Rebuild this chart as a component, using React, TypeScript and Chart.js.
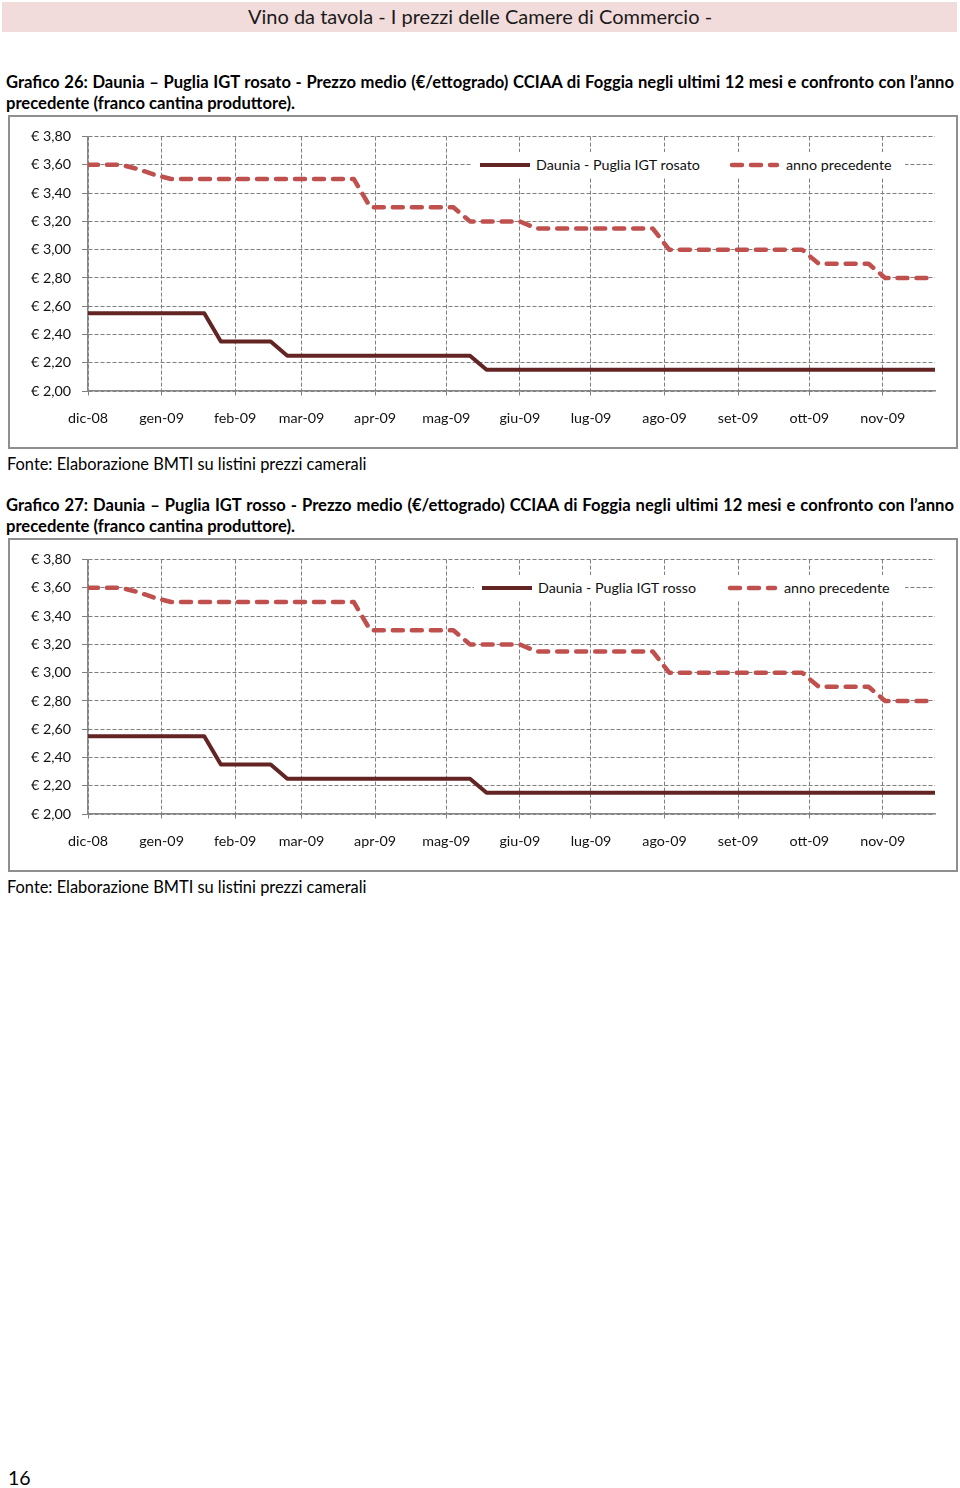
import React, { useEffect, useRef } from "react";
import { Chart, registerables } from "chart.js";

Chart.register(...registerables);

const FONT = "Lato, 'Open Sans', 'DejaVu Sans', sans-serif";

// Weekly observation dates (Mondays)
const weekDates = [
  "2008-12-01", "2008-12-08", "2008-12-15", "2008-12-22", "2008-12-29",
  "2009-01-05", "2009-01-12", "2009-01-19", "2009-01-26",
  "2009-02-02", "2009-02-09", "2009-02-16", "2009-02-23",
  "2009-03-02", "2009-03-09", "2009-03-16", "2009-03-23", "2009-03-30",
  "2009-04-06", "2009-04-13", "2009-04-20", "2009-04-27",
  "2009-05-04", "2009-05-11", "2009-05-18", "2009-05-25",
  "2009-06-01", "2009-06-08", "2009-06-15", "2009-06-22", "2009-06-29",
  "2009-07-06", "2009-07-13", "2009-07-20", "2009-07-27",
  "2009-08-03", "2009-08-10", "2009-08-17", "2009-08-24", "2009-08-31",
  "2009-09-07", "2009-09-14", "2009-09-21", "2009-09-28",
  "2009-10-05", "2009-10-12", "2009-10-19", "2009-10-26",
  "2009-11-02", "2009-11-09", "2009-11-16", "2009-11-23",
];

const monthStarts = [
  "2008-12-01", "2009-01-01", "2009-02-01", "2009-03-01", "2009-04-01", "2009-05-01",
  "2009-06-01", "2009-07-01", "2009-08-01", "2009-09-01", "2009-10-01", "2009-11-01",
];
const monthLabels = [
  "dic-08", "gen-09", "feb-09", "mar-09", "apr-09", "mag-09",
  "giu-09", "lug-09", "ago-09", "set-09", "ott-09", "nov-09",
];
const yTickValues = [2.0, 2.2, 2.4, 2.6, 2.8, 3.0, 3.2, 3.4, 3.6, 3.8];

// Grafico 26 – rosato
const rosatoCurrent = [
  2.55, 2.55, 2.55, 2.55, 2.55, 2.55, 2.55, 2.55,
  2.35, 2.35, 2.35, 2.35,
  2.25, 2.25, 2.25, 2.25, 2.25, 2.25, 2.25, 2.25, 2.25, 2.25, 2.25, 2.25,
  2.15, 2.15, 2.15, 2.15, 2.15, 2.15, 2.15, 2.15, 2.15, 2.15, 2.15, 2.15, 2.15, 2.15,
  2.15, 2.15, 2.15, 2.15, 2.15, 2.15, 2.15, 2.15, 2.15, 2.15, 2.15, 2.15, 2.15, 2.15,
];
const rosatoPrevious = [
  3.6, 3.6, 3.6, 3.57, 3.53,
  3.5, 3.5, 3.5, 3.5, 3.5, 3.5, 3.5, 3.5, 3.5, 3.5, 3.5, 3.5,
  3.3, 3.3, 3.3, 3.3, 3.3, 3.3,
  3.2, 3.2, 3.2, 3.2,
  3.15, 3.15, 3.15, 3.15, 3.15, 3.15, 3.15, 3.15,
  3.0, 3.0, 3.0, 3.0, 3.0, 3.0, 3.0, 3.0, 3.0,
  2.9, 2.9, 2.9, 2.9,
  2.8, 2.8, 2.8, 2.8,
];

// Grafico 27 – rosso
const rossoCurrent = [
  2.55, 2.55, 2.55, 2.55, 2.55, 2.55, 2.55, 2.55,
  2.35, 2.35, 2.35, 2.35,
  2.25, 2.25, 2.25, 2.25, 2.25, 2.25, 2.25, 2.25, 2.25, 2.25, 2.25, 2.25,
  2.15, 2.15, 2.15, 2.15, 2.15, 2.15, 2.15, 2.15, 2.15, 2.15, 2.15, 2.15, 2.15, 2.15,
  2.15, 2.15, 2.15, 2.15, 2.15, 2.15, 2.15, 2.15, 2.15, 2.15, 2.15, 2.15, 2.15, 2.15,
];
const rossoPrevious = [
  3.6, 3.6, 3.6, 3.57, 3.53,
  3.5, 3.5, 3.5, 3.5, 3.5, 3.5, 3.5, 3.5, 3.5, 3.5, 3.5, 3.5,
  3.3, 3.3, 3.3, 3.3, 3.3, 3.3,
  3.2, 3.2, 3.2, 3.2,
  3.15, 3.15, 3.15, 3.15, 3.15, 3.15, 3.15, 3.15,
  3.0, 3.0, 3.0, 3.0, 3.0, 3.0, 3.0, 3.0, 3.0,
  2.9, 2.9, 2.9, 2.9,
  2.8, 2.8, 2.8, 2.8,
];

const MAIN_COLOR = "#632523";
const PREV_COLOR = "#C0504D";
const GRID_COLOR = "#7f7f7f";

const toDay = (s: string) => {
  const [y, m, d] = s.split("-").map(Number);
  return (Date.UTC(y, m - 1, d) - Date.UTC(2008, 11, 1)) / 86400000;
};
const weekDays = weekDates.map(toDay);
const monthDays = monthStarts.map(toDay);
const X_MAX = weekDays[weekDays.length - 1];

const CANVAS_W = 946;
const CANVAS_H = 330;

function PriceChart({ current, previous, label }: { current: number[]; previous: number[]; label: string }) {
  const ref = useRef<HTMLCanvasElement | null>(null);
  useEffect(() => {
    const chart = new Chart(ref.current as HTMLCanvasElement, {
      type: "line",
      data: {
        datasets: [
          {
            label,
            data: weekDays.map((x, i) => ({ x, y: current[i] })),
            borderColor: MAIN_COLOR,
            backgroundColor: MAIN_COLOR,
            borderWidth: 4,
            pointRadius: 0,
            tension: 0,
            borderJoinStyle: "round",
            borderCapStyle: "butt",
          },
          {
            label: "anno precedente",
            data: weekDays.map((x, i) => ({ x, y: previous[i] })),
            borderColor: PREV_COLOR,
            backgroundColor: PREV_COLOR,
            borderWidth: 4.5,
            borderDash: [10, 9],
            borderCapStyle: "round",
            borderJoinStyle: "round",
            pointRadius: 0,
            tension: 0,
          },
        ],
      },
      options: {
        animation: false,
        responsive: false,
        maintainAspectRatio: false,
        layout: { padding: { left: 0, right: 21, top: 19, bottom: 0 } },
        plugins: { legend: { display: false }, tooltip: { enabled: false } },
        scales: {
          x: {
            type: "linear",
            min: 0,
            max: X_MAX,
            afterBuildTicks: (s: any) => {
              s.ticks = monthDays.map((v) => ({ value: v }));
            },
            afterFit: (s: any) => {
              s.height = 56;
            },
            ticks: {
              autoSkip: false,
              maxRotation: 0,
              minRotation: 0,
              padding: 13,
              color: "#111",
              font: { family: FONT, size: 14.3 },
              callback: (_v: any, i: number) => monthLabels[i],
            },
            grid: { color: GRID_COLOR, lineWidth: 1, tickLength: 6, tickBorderDash: [4, 2] },
            border: { color: "#868686", width: 1.5, dash: [4, 2] },
          },
          y: {
            min: 2.0,
            max: 3.8,
            afterBuildTicks: (s: any) => {
              s.ticks = yTickValues.map((v) => ({ value: v }));
            },
            afterFit: (s: any) => {
              s.width = 78;
            },
            ticks: {
              padding: 11,
              color: "#111",
              font: { family: FONT, size: 14.3 },
              callback: (v: any) => "€ " + Number(v).toFixed(2).replace(".", ","),
            },
            grid: { color: GRID_COLOR, lineWidth: 1, tickLength: 6, tickBorderDash: [] },
            border: { color: "#868686", width: 1.5, dash: [4, 2] },
          },
        },
      },
    } as any);
    return () => chart.destroy();
  }, []);
  return <canvas ref={ref} width={CANVAS_W} height={CANVAS_H} style={{ display: "block", width: CANVAS_W, height: CANVAS_H }} />;
}

function Legend({ label, pos }: { label: string; pos: { s1: number; t1: number; s2: number; t2: number } }) {
  // positions are page x coordinates; box inner left is page x 10
  const ox = 10;
  const bgLeft = pos.s1 - 8 - ox;
  const bgWidth = 905 - pos.s1 + 8;
  const lineY = 13;
  return (
    <div
      style={{
        position: "absolute",
        left: bgLeft,
        top: 35,
        width: bgWidth,
        height: 26,
        background: "#fff",
        fontFamily: FONT,
        fontSize: 14.3,
        color: "#111",
      }}
    >
      <svg style={{ position: "absolute", left: 0, top: 0 }} width={bgWidth} height={26}>
        <line x1={pos.s1 - ox - bgLeft} x2={pos.s1 + 50 - ox - bgLeft} y1={lineY} y2={lineY} stroke={MAIN_COLOR} strokeWidth={4} />
        <line
          x1={pos.s2 + 2 - ox - bgLeft}
          x2={pos.s2 + 47 - ox - bgLeft}
          y1={lineY}
          y2={lineY}
          stroke={PREV_COLOR}
          strokeWidth={4.5}
          strokeDasharray="10 9"
          strokeLinecap="round"
        />
      </svg>
      <div style={{ position: "absolute", left: pos.t1 - ox - bgLeft, top: 0, height: 26, lineHeight: "26px", whiteSpace: "nowrap" }}>
        {label}
      </div>
      <div style={{ position: "absolute", left: pos.t2 - ox - bgLeft, top: 0, height: 26, lineHeight: "26px", whiteSpace: "nowrap" }}>
        anno precedente
      </div>
    </div>
  );
}

function Section({
  top,
  titleLine1,
  titleLine2,
  current,
  previous,
  label,
  legendPos,
}: {
  top: number;
  titleLine1: string;
  titleLine2: string;
  current: number[];
  previous: number[];
  label: string;
  legendPos: { s1: number; t1: number; s2: number; t2: number };
}) {
  return (
    <>
      <div
        style={{
          position: "absolute",
          left: 6,
          top: top,
          width: 948,
          height: 21,
          lineHeight: "21px",
          fontFamily: FONT,
          fontWeight: 700,
          fontSize: 16.6,
          color: "#000",
          textAlign: "justify",
          textAlignLast: "justify" as any,
          whiteSpace: "nowrap",
        }}
      >
        {titleLine1}
      </div>
      <div
        style={{
          position: "absolute",
          left: 6,
          top: top + 21,
          height: 21,
          lineHeight: "21px",
          fontFamily: FONT,
          fontWeight: 700,
          fontSize: 16.6,
          color: "#000",
          whiteSpace: "nowrap",
        }}
      >
        {titleLine2}
      </div>
      <div
        style={{
          position: "absolute",
          left: 8,
          top: top + 43,
          width: 950,
          height: 334,
          boxSizing: "border-box",
          border: "2px solid #8f8f8f",
          background: "#fff",
        }}
      >
        <div style={{ position: "relative", width: CANVAS_W, height: CANVAS_H }}>
          <PriceChart current={current} previous={previous} label={label} />
          <Legend label={label} pos={legendPos} />
        </div>
      </div>
      <div
        style={{
          position: "absolute",
          left: 7,
          top: top + 382,
          height: 20,
          lineHeight: "20px",
          fontFamily: FONT,
          fontSize: 16.4,
          color: "#000",
          whiteSpace: "nowrap",
        }}
      >
        Fonte: Elaborazione BMTI su listini prezzi camerali
      </div>
    </>
  );
}

export default function App() {
  return (
    <div style={{ position: "absolute", left: 0, top: 0, width: 960, height: 1488, background: "#fff", overflow: "hidden" }}>
      <div style={{ position: "absolute", left: 2, top: 2, width: 955, height: 30, background: "#F2DCDB" }} />
      <div
        style={{
          position: "absolute",
          left: 0,
          top: 2,
          width: 960,
          height: 30,
          lineHeight: "29px",
          textAlign: "center",
          fontFamily: FONT,
          fontSize: 20,
          color: "#1a1a1a",
          whiteSpace: "nowrap",
        }}
      >
        Vino da tavola - I prezzi delle Camere di Commercio -
      </div>

      <Section
        top={72}
        titleLine1="Grafico 26: Daunia – Puglia IGT rosato - Prezzo medio (€/ettogrado) CCIAA di Foggia negli ultimi 12 mesi e confronto con l’anno"
        titleLine2="precedente (franco cantina produttore)."
        current={rosatoCurrent}
        previous={rosatoPrevious}
        label="Daunia - Puglia IGT rosato"
        legendPos={{ s1: 480, t1: 536, s2: 730, t2: 786 }}
      />
      <Section
        top={495}
        titleLine1="Grafico 27: Daunia – Puglia IGT rosso - Prezzo medio (€/ettogrado) CCIAA di Foggia negli ultimi 12 mesi e confronto con l’anno"
        titleLine2="precedente (franco cantina produttore)."
        current={rossoCurrent}
        previous={rossoPrevious}
        label="Daunia - Puglia IGT rosso"
        legendPos={{ s1: 482, t1: 538, s2: 728, t2: 784 }}
      />

      <div
        style={{
          position: "absolute",
          left: 8,
          top: 1466,
          height: 24,
          lineHeight: "24px",
          fontFamily: FONT,
          fontSize: 19.5,
          color: "#000",
        }}
      >
        16
      </div>
    </div>
  );
}
